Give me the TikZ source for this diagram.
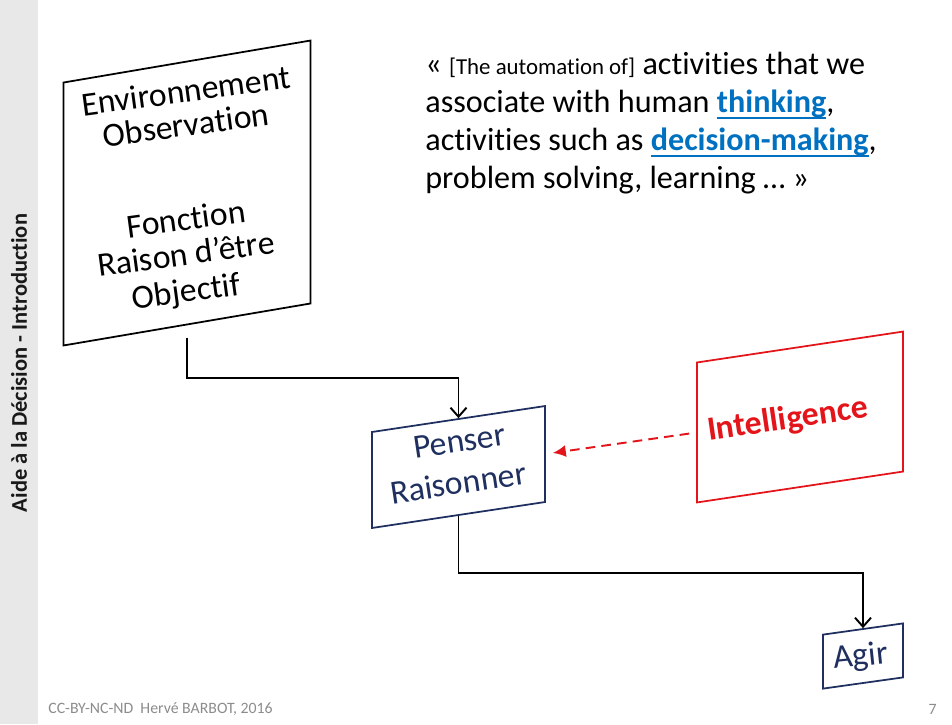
\documentclass[tikz,border=0pt]{standalone}
\usepackage{fontspec}
\setmainfont{Carlito}[Ligatures=CommonOff]
\usetikzlibrary{arrows.meta}

\definecolor{navy}{HTML}{1F2F5F}
\definecolor{redint}{HTML}{E3151B}
\definecolor{linkblue}{HTML}{0070C0}
\definecolor{footgray}{HTML}{8C8C8C}
\definecolor{sidegray}{HTML}{E8E8E8}
\newcommand{\keyword}[1]{{\color{linkblue}\bfseries\setbox0\hbox{#1}\rlap{\rule[-3.4pt]{\wd0}{1.1pt}}\box0}}

\begin{document}
\begin{tikzpicture}[
    x=0.02cm, y=-0.02cm,
    panel/.style={rectangle, draw, line width=1pt, transform shape, inner sep=0pt},
    paneltext/.style={rotate=8.5, anchor=base, inner sep=0pt, font=\fontsize{19.2}{22}\selectfont},
    flow/.style={-{Straight Barb[length=1.8mm, width=3.2mm]}, line width=1.1pt},
    dashedflow/.style={-{Latex[length=2.6mm, width=2.4mm]}, line width=1.1pt, draw=redint, dash pattern=on 5.5pt off 3.5pt},
    foot/.style={font=\fontsize{9}{11}\selectfont, text=footgray, inner sep=0pt}
]
\useasboundingbox (0,0) rectangle (952,724);

% Side strip
\fill[sidegray] (0,0) rectangle (38,724);
\node[rotate=90, font=\bfseries\fontsize{12.8}{15}\selectfont, text=black!90] (sidetitle) at (19,363) {Aide à la Décision - Introduction};

% Boxes (slanted frames)
\node[panel, yslant=0.17, minimum width=4.94cm, minimum height=5.26cm] (env) at (187,193) {};
\node[panel, yslant=0.15, draw=navy, minimum width=3.46cm, minimum height=1.92cm] (penser) at (458.5,467) {};
\node[panel, yslant=0.14, draw=navy, minimum width=1.6cm, minimum height=1.08cm] (agir) at (863,656) {};
\node[panel, yslant=0.15, draw=redint, minimum width=4.12cm, minimum height=2.8cm] (intel) at (800,417) {};

% Box texts, one line each
\foreach \txt/\ypos [count=\i] in {Environnement/102, Observation/136, Fonction/230, Raison d’être/265, Objectif/302}
    \node[paneltext, rotate=-0.8] (env\i) at (187.5,\ypos) {\txt};
\node[paneltext, text=navy] (penser1) at (461,452) {Penser};
\node[paneltext, text=navy] (penser2) at (460,494) {Raisonner};
\node[paneltext, text=navy, rotate=-2.5] (agirtext) at (861.5,666) {Agir};
\node[paneltext, text=redint, font=\bfseries\fontsize{19.2}{22}\selectfont, rotate=-0.2] (inteltext) at (789,429) {Intelligence};

% Quote
\node[anchor=north west, align=left, inner sep=0pt, font=\fontsize{18.3}{21.6}\selectfont] (quote) at (425,52)
    {« {\fontsize{13}{15}\selectfont [The automation of]} activities that we\\
     associate with human \keyword{thinking},\\
     activities such as \keyword{decision-making},\\
     problem solving, learning … »};

% Connectors
\draw[flow, shorten <=7pt] (env.south) -- ++(0,53) -| (penser.north);
\draw[flow] (penser.south) -- ++(0,57.5) -| (agir.north);
\draw[dashedflow, shorten <=4pt, shorten >=4pt] (intel.west) -- (penser.east);

% Footer
\node[foot, anchor=west] (credit) at (48,709) {CC-BY-NC-ND\ \ Hervé BARBOT, 2016};
\node[foot, anchor=east] (pagenum) at (937,709) {7};

\end{tikzpicture}
\end{document}
